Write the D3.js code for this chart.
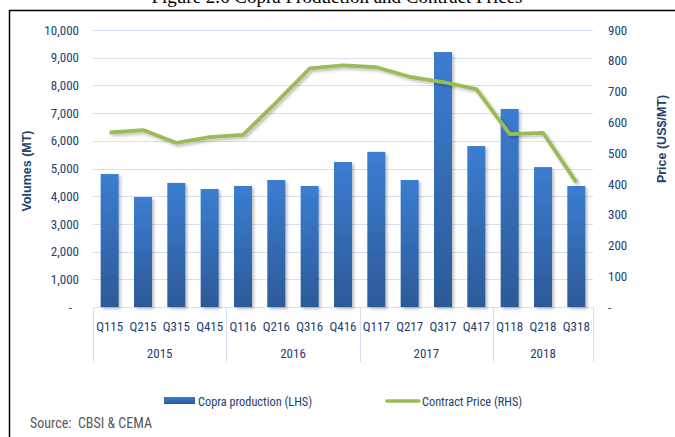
<!DOCTYPE html>
<html>
<head>
<meta charset="utf-8">
<script src="https://cdn.jsdelivr.net/npm/d3@7"></script>
<style>
  body { margin: 0; background: #fff; }
  svg { display: block; }
  .narrow { font-family: "Liberation Sans Narrow", "Arial Narrow", "Roboto Condensed", sans-serif; }
</style>
</head>
<body>
<svg id="chart" width="675" height="437"></svg>
<script>
const quarters = ["Q115","Q215","Q315","Q415","Q116","Q216","Q316","Q416","Q117","Q217","Q317","Q417","Q118","Q218","Q318"];
const years = ["2015","2016","2017","2018"];
const yearSize = [4, 4, 4, 3];
const production = [4800, 3970, 4480, 4260, 4370, 4585, 4370, 5235, 5600, 4585, 9205, 5810, 7150, 5050, 4370];
const price = [567, 575, 533, 552, 559, 665, 775, 785, 779, 748, 731, 708, 562, 566, 405];
const leftTicks = [0,1000,2000,3000,4000,5000,6000,7000,8000,9000,10000];
const rightTicks = [0,100,200,300,400,500,600,700,800,900];

const W = 675, H = 437;
const plotL = 93, plotR = 593, plotT = 30, plotB = 307;
const textCol = "#24416f";
const gridCol = "#d5e1f1";

const svg = d3.select("#chart");

// defs
const defs = svg.append("defs");
const grad = defs.append("linearGradient")
    .attr("id", "barGrad")
    .attr("x1", 0).attr("y1", 0).attr("x2", 0).attr("y2", 1);
grad.append("stop").attr("offset", "0%").attr("stop-color", "#3b7dd0");
grad.append("stop").attr("offset", "100%").attr("stop-color", "#2c5a98");

const shadow = defs.append("filter").attr("id", "shadow")
    .attr("x", "-20%").attr("y", "-20%").attr("width", "150%").attr("height", "150%");
shadow.append("feDropShadow")
    .attr("dx", 2).attr("dy", 2).attr("stdDeviation", 1.5)
    .attr("flood-color", "#000").attr("flood-opacity", 0.25);

// scales
const x = d3.scaleBand()
    .domain(quarters)
    .range([plotL, plotR])
    .paddingInner(0.46)
    .paddingOuter(0.23);

const yL = d3.scaleLinear().domain([0, 10000]).range([plotB, plotT]);
const yR = d3.scaleLinear().domain([0, 900]).range([plotB, plotT]);

// title + frame
svg.append("text")
    .attr("x", 337)
    .attr("y", 3)
    .attr("text-anchor", "middle")
    .attr("font-family", "'Liberation Serif', 'DejaVu Serif', serif")
    .attr("font-size", 19)
    .attr("fill", "#000")
    .text("Figure 2.6 Copra Production and Contract Prices");

svg.append("line")
    .attr("x1", 9).attr("x2", W)
    .attr("y1", 10.5).attr("y2", 10.5)
    .attr("stroke", "#000").attr("stroke-width", 1.5);
svg.append("line")
    .attr("x1", 9.5).attr("x2", 9.5)
    .attr("y1", 10).attr("y2", H)
    .attr("stroke", "#000").attr("stroke-width", 1.5);

// gridlines
svg.append("g")
    .selectAll("line")
    .data(leftTicks)
    .enter().append("line")
    .attr("x1", plotL).attr("x2", plotR)
    .attr("y1", d => Math.round(yL(d)) + 0.5)
    .attr("y2", d => Math.round(yL(d)) + 0.5)
    .attr("stroke", gridCol)
    .attr("stroke-width", 1);

// left axis
const fmt = d3.format(",");
const leftAxis = d3.axisLeft(yL)
    .tickValues(leftTicks)
    .tickSize(0)
    .tickPadding(14)
    .tickFormat(d => d === 0 ? "-" : fmt(d));
const gL = svg.append("g")
    .attr("class", "narrow")
    .attr("transform", `translate(${plotL},0)`)
    .call(leftAxis);
gL.select(".domain").remove();
gL.selectAll("text")
    .attr("fill", textCol)
    .attr("font-size", 13)
    .attr("dx", d => d === 0 ? -7 : 0);

// right axis
const rightAxis = d3.axisRight(yR)
    .tickValues(rightTicks)
    .tickSize(0)
    .tickPadding(15)
    .tickFormat(d => d === 0 ? "-" : d);
const gR = svg.append("g")
    .attr("class", "narrow")
    .attr("transform", `translate(${plotR},0)`)
    .call(rightAxis);
gR.select(".domain").remove();
gR.selectAll("text")
    .attr("fill", textCol)
    .attr("font-size", 13);

// axis titles
svg.append("text")
    .attr("transform", "translate(31,171) rotate(-90)")
    .attr("text-anchor", "middle")
    .attr("font-family", "'Liberation Sans', Arial, sans-serif")
    .attr("font-weight", "bold")
    .attr("font-size", 12.5)
    .attr("fill", textCol)
    .text("Volumes (MT)");

svg.append("text")
    .attr("transform", "translate(666,139) rotate(-90)")
    .attr("text-anchor", "middle")
    .attr("font-family", "'Liberation Sans', Arial, sans-serif")
    .attr("font-weight", "bold")
    .attr("font-size", 12.5)
    .attr("fill", textCol)
    .text("Price (US$/MT)");

// x axis (two levels)
const step = x.step();
const xg = svg.append("g").attr("class", "narrow");
xg.append("line")
    .attr("x1", plotL).attr("x2", plotR)
    .attr("y1", plotB + 0.5).attr("y2", plotB + 0.5)
    .attr("stroke", gridCol);

let starts = [0];
yearSize.forEach((n, i) => starts.push(starts[i] + n));
xg.selectAll(".sep")
    .data(starts)
    .enter().append("line")
    .attr("class", "sep")
    .attr("x1", d => Math.round(plotL + d * step) + 0.5)
    .attr("x2", d => Math.round(plotL + d * step) + 0.5)
    .attr("y1", plotB)
    .attr("y2", 362)
    .attr("stroke", gridCol);

xg.selectAll(".qlab")
    .data(quarters)
    .enter().append("text")
    .attr("class", "qlab")
    .attr("x", d => x(d) + x.bandwidth() / 2)
    .attr("y", 331)
    .attr("text-anchor", "middle")
    .attr("font-size", 13)
    .attr("fill", textCol)
    .text(d => d);

xg.selectAll(".ylab")
    .data(years)
    .enter().append("text")
    .attr("class", "ylab")
    .attr("x", (d, i) => plotL + (starts[i] + yearSize[i] / 2) * step)
    .attr("y", 358)
    .attr("text-anchor", "middle")
    .attr("font-size", 13)
    .attr("fill", textCol)
    .text(d => d);

// bars
svg.append("g")
    .selectAll("rect")
    .data(production)
    .enter().append("rect")
    .attr("x", (d, i) => x(quarters[i]))
    .attr("y", d => yL(d))
    .attr("width", x.bandwidth())
    .attr("height", d => plotB - yL(d))
    .attr("fill", "url(#barGrad)")
    .attr("filter", "url(#shadow)");

// price line
const line = d3.line()
    .x((d, i) => x(quarters[i]) + x.bandwidth() / 2)
    .y(d => yR(d));
svg.append("path")
    .datum(price)
    .attr("d", line)
    .attr("fill", "none")
    .attr("stroke", "#9bbb59")
    .attr("stroke-width", 3.8)
    .attr("stroke-linejoin", "round")
    .attr("filter", "url(#shadow)");

// legend
const lg = svg.append("g").attr("class", "narrow");
lg.append("rect")
    .attr("x", 164).attr("y", 397)
    .attr("width", 31).attr("height", 7)
    .attr("fill", "url(#barGrad)");
lg.append("text")
    .attr("x", 198).attr("y", 405.5)
    .attr("font-size", 12.3)
    .attr("fill", textCol)
    .text("Copra production (LHS)");
lg.append("line")
    .attr("x1", 387).attr("x2", 419)
    .attr("y1", 401).attr("y2", 401)
    .attr("stroke", "#9bbb59")
    .attr("stroke-width", 3.5)
    .attr("stroke-linecap", "round");
lg.append("text")
    .attr("x", 422).attr("y", 405.5)
    .attr("font-size", 12.3)
    .attr("fill", textCol)
    .text("Contract Price (RHS)");

// source
svg.append("text")
    .attr("class", "narrow")
    .attr("x", 30).attr("y", 428)
    .attr("font-size", 14)
    .attr("fill", "#595959")
    .attr("xml:space", "preserve")
    .text("Source:  CBSI & CEMA");
</script>
</body>
</html>
